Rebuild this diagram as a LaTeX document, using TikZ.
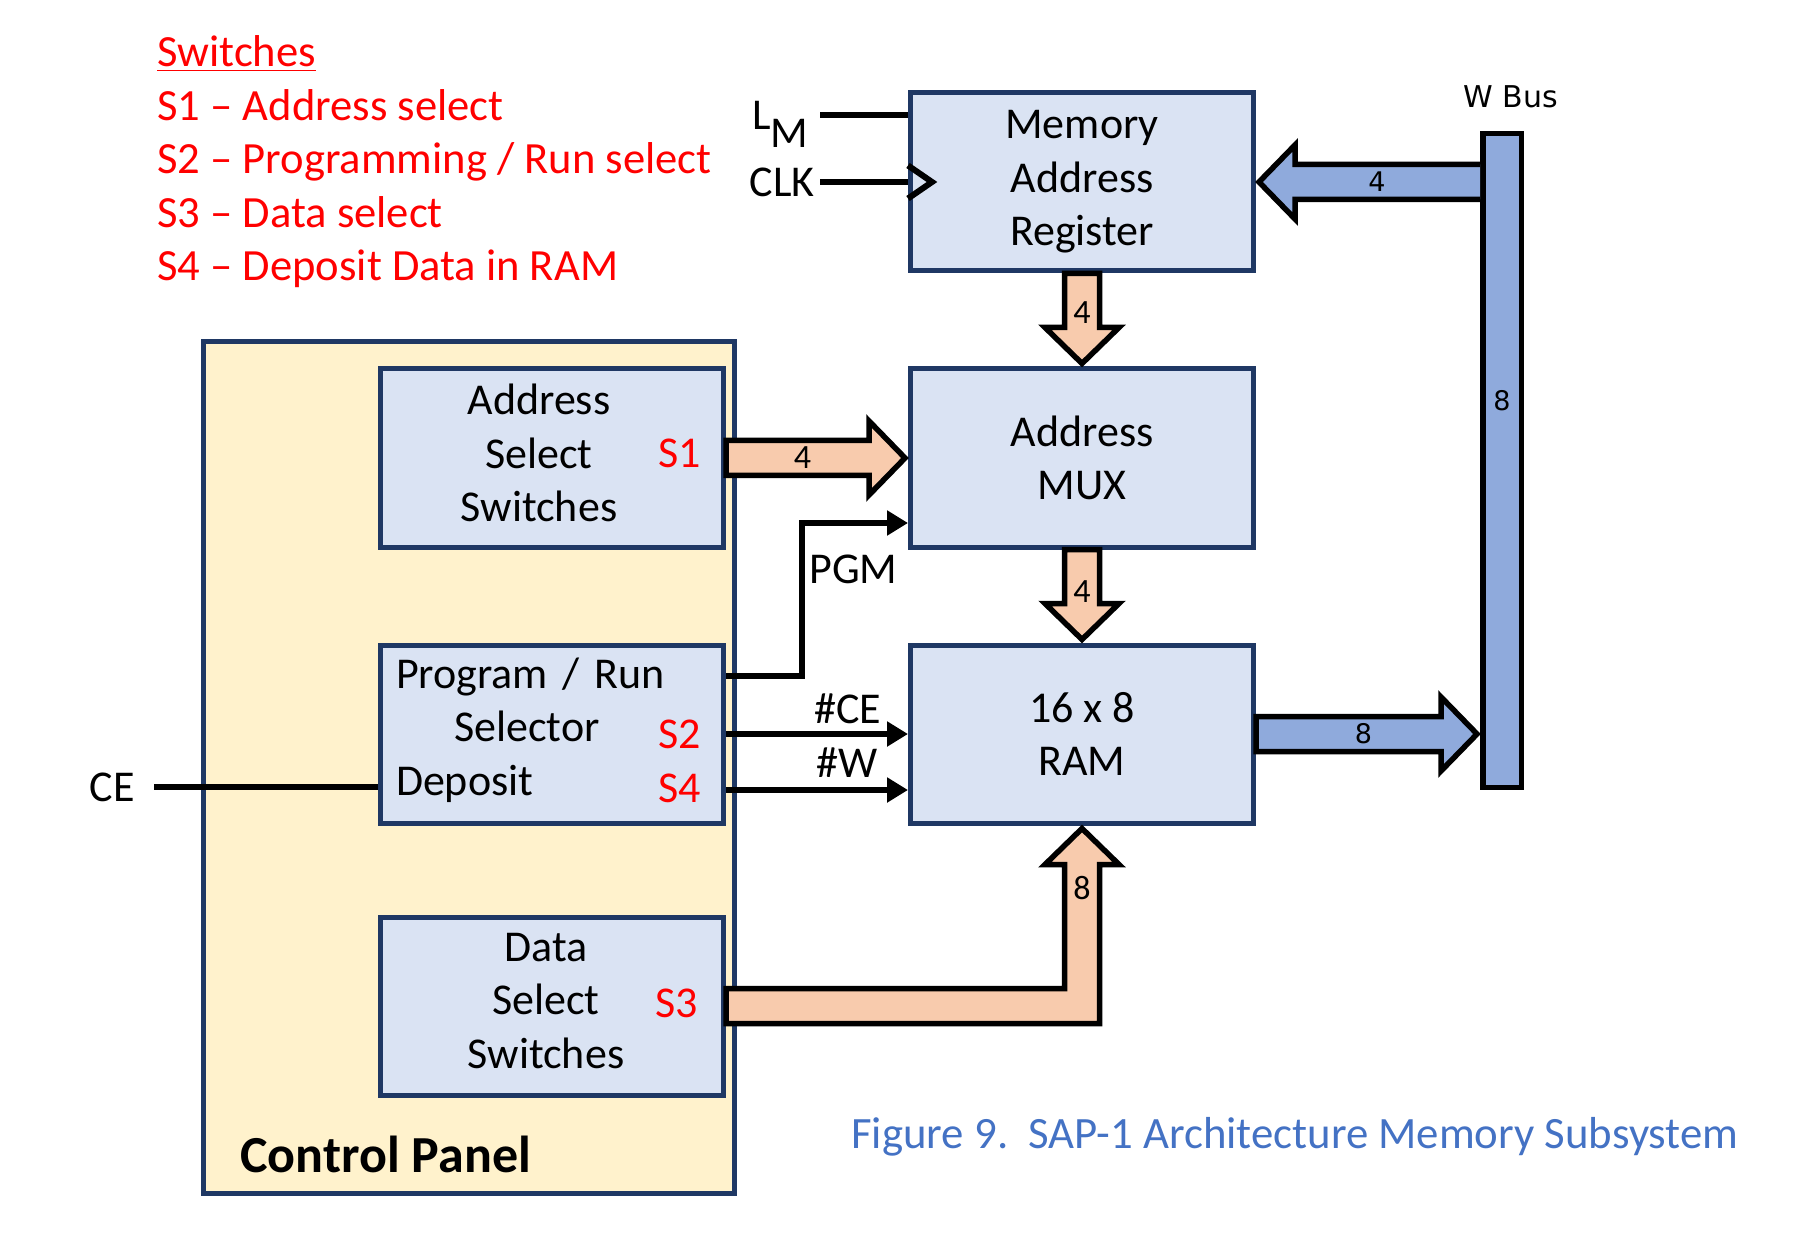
\documentclass[tikz,border=0pt]{standalone}
\usepackage{fontspec}
\setmainfont{Carlito}
\newfontfamily\busfont{DejaVu Sans}
\usetikzlibrary{positioning, calc, arrows.meta}
\definecolor{box_fill}{HTML}{DAE3F3}
\definecolor{box_line}{HTML}{1F3864}
\definecolor{panel_fill}{HTML}{FFF2CC}
\definecolor{bus_orange}{HTML}{F8CBAD}
\definecolor{bus_blue}{HTML}{8FAADC}
\definecolor{caption_blue}{HTML}{4472C4}
\definecolor{switch_red}{HTML}{FF0000}

\begin{document}
\begin{tikzpicture}[
    x=0.5pt, y=-0.5pt,
    >={Triangle[length=10.5pt, width=12pt]},
    font=\fontsize{22}{26.75}\selectfont,
    block/.style={
        draw=box_line,
        fill=box_fill,
        line width=2.5pt,
        align=center,
        minimum width=171.5pt,
        minimum height=89pt,
        inner sep=0pt
    },
    panel/.style={
        draw=box_line,
        fill=panel_fill,
        line width=2.5pt,
        minimum width=265.5pt,
        minimum height=426pt,
        inner sep=0pt
    },
    boxtext/.style={align=center, inner sep=0pt},
    swtag/.style={text=switch_red, inner sep=0pt, anchor=east},
    sigtext/.style={inner sep=0pt},
    sig/.style={line width=3pt},
    fatbus/.style={draw=black, line width=2.75pt, line join=miter},
    orangebus/.style={fatbus, fill=bus_orange},
    bluebus/.style={fatbus, fill=bus_blue},
    orangenum/.style={font=\fontsize{17}{20}\selectfont, inner sep=0pt},
    bluenum/.style={font=\busfont\fontsize{13.5}{16}\selectfont, inner sep=0pt}
]
\useasboundingbox (0,0) rectangle (1813,1256);

\node[anchor=west, align=left, text=switch_red, inner sep=0pt, font=\fontsize{22.3}{26.75}\selectfont] (legend) at (157,162)
    {\underline{Switches}\\S1 -- Address select\\S2 -- Programming / Run select\\S3 -- Data select\\S4 -- Deposit Data in RAM};

\node[panel] (panel) at (469,767.5) {};
\node[anchor=base west, inner sep=0pt, font=\bfseries\fontsize{26}{30}\selectfont] (paneltitle)
    at ([xshift=19.5pt, yshift=12pt]panel.south west) {Control Panel};

\node[block] (mux) at (1082,458) {Address\\MUX};
\node[block, above=46.5pt of mux] (mar) {Memory\\Address\\Register};
\node[block, below=46.5pt of mux] (ram) {16 x 8\\RAM};
\node[block, left=91pt of mux] (addrsw) {};
\node[block, left=91pt of ram] (pgmsw) {};
\node[block, below=44.5pt of pgmsw] (datasw) {};

\node[boxtext] (addrswtext) at ([xshift=-6.5pt, yshift=2.5pt]addrsw.center) {Address\\Select\\Switches};
\node[boxtext, align=left, text width=156pt] (pgmswtext) at ([yshift=2pt]pgmsw.center) {Program / Run\\\hspace*{29pt}Selector\\Deposit};
\node[boxtext] (dataswtext) at ([xshift=-3pt, yshift=2.5pt]datasw.center) {Data\\Select\\Switches};

\node[swtag] (s1) at ([xshift=-12.5pt, yshift=2.5pt]addrsw.east) {S1};
\node[swtag] (s2) at ([xshift=-12.5pt]pgmsw.east) {S2};
\node[swtag] (s4) at ([xshift=-12.5pt, yshift=-27pt]pgmsw.east) {S4};
\node[swtag] (s3) at ([xshift=-14pt, yshift=1.5pt]datasw.east) {S3};

\coordinate (lmin) at ([yshift=33.25pt]mar.west);
\node[sigtext, left=49.5pt of lmin] (lm) {L\smash{\raisebox{-9pt}{M}}};
\draw[sig] ([xshift=5.5pt]lm.east) -- (lmin);
\node[sigtext, left=46.5pt of mar.west] (clk) {CLK};
\draw[sig] ([xshift=2.5pt]clk.east) -- (mar.west);
\draw[sig, line join=miter] ([yshift=8.25pt]mar.west) -- ([xshift=12pt]mar.west) -- ([yshift=-8.25pt]mar.west);

\coordinate (pgmin) at ([yshift=-32.5pt]mux.west);
\draw[sig, ->] ([yshift=29pt]pgmsw.east) -| ([xshift=-53pt]pgmin) -- (pgmin);
\node[sigtext, anchor=west] (pgm) at ([xshift=-49.5pt, yshift=-23pt]pgmin) {PGM};
\draw[sig, ->] (pgmsw.east) -- node[sigtext, pos=0.87, anchor=south east, yshift=3.5pt] (celabel) {\#CE} (ram.west);
\draw[sig, ->] ([yshift=-28pt]pgmsw.east) -- node[sigtext, pos=0.85, anchor=south east, yshift=5pt] (wlabel) {\#W} ([yshift=-28pt]ram.west);

\coordinate (cein) at ([yshift=-26.5pt]pgmsw.west);
\node[sigtext, left=121.5pt of cein] (ce) {CE};
\draw[sig] ([xshift=9.5pt]ce.east) -- (cein);

\node[draw, fill=bus_blue, line width=2.75pt, minimum width=19.25pt, minimum height=326.75pt, inner sep=0pt] (wbus) at (1502,460.5) {};
\node[bluenum] (wbus8) at ($(wbus.center)+(0,-59.5)$) {8};
\node[font=\busfont\fontsize{15}{18}\selectfont, inner sep=0pt] (wbuslabel) at ($(wbus.north)+(9,-34)$) {W Bus};

\draw[orangebus] ($(addrsw.east)+(0,-17.5)$) -- ($(mux.west)+(-39,-17.5)$) -- ($(mux.west)+(-39,-37)$) -- ($(mux.west)+(-3,0)$)
    -- ($(mux.west)+(-39,37)$) -- ($(mux.west)+(-39,17.5)$) -- ($(addrsw.east)+(0,17.5)$) -- cycle;
\node[orangenum] (n1) at ($(addrsw.east)!0.42!(mux.west)$) {4};

\draw[orangebus] ($(mar.south)+(-17.5,0)$) -- ($(mux.north)+(-17.5,-39)$) -- ($(mux.north)+(-37,-39)$) -- ($(mux.north)+(0,-3)$)
    -- ($(mux.north)+(37,-39)$) -- ($(mux.north)+(17.5,-39)$) -- ($(mar.south)+(17.5,0)$) -- cycle;
\node[orangenum] (n2) at ($(mar.south)!0.42!(mux.north)$) {4};

\draw[orangebus] ($(mux.south)+(-17.5,0)$) -- ($(ram.north)+(-17.5,-39)$) -- ($(ram.north)+(-37,-39)$) -- ($(ram.north)+(0,-3)$)
    -- ($(ram.north)+(37,-39)$) -- ($(ram.north)+(17.5,-39)$) -- ($(mux.south)+(17.5,0)$) -- cycle;
\node[orangenum] (n3) at ($(mux.south)!0.45!(ram.north)$) {4};

\draw[orangebus] ($(datasw.east)+(0,-17.5)$) -- ($(datasw.east -| ram.south)+(-17.5,-17.5)$) -- ($(ram.south)+(-17.5,39)$)
    -- ($(ram.south)+(-37,39)$) -- ($(ram.south)+(0,3)$) -- ($(ram.south)+(37,39)$) -- ($(ram.south)+(17.5,39)$)
    -- ($(datasw.east -| ram.south)+(17.5,17.5)$) -- ($(datasw.east)+(0,17.5)$) -- cycle;
\node[orangenum] (n4) at ($(ram.south)+(0,63)$) {8};

\draw[bluebus] ($(wbus.west |- mar.east)+(0,-17.5)$) -- ($(mar.east)+(39,-17.5)$) -- ($(mar.east)+(39,-37)$) -- ($(mar.east)+(3,0)$)
    -- ($(mar.east)+(39,37)$) -- ($(mar.east)+(39,17.5)$) -- ($(wbus.west |- mar.east)+(0,17.5)$);
\node[bluenum] (n5) at ($(wbus.west |- mar.east)!0.46!(mar.east)$) {4};

\draw[bluebus] ($(ram.east)+(0,-17.5)$) -- ($(wbus.west |- ram.east)+(-39,-17.5)$) -- ($(wbus.west |- ram.east)+(-39,-37)$)
    -- ($(wbus.west |- ram.east)+(-3,0)$) -- ($(wbus.west |- ram.east)+(-39,37)$) -- ($(wbus.west |- ram.east)+(-39,17.5)$)
    -- ($(ram.east)+(0,17.5)$) -- cycle;
\node[bluenum] (n6) at ($(ram.east)!0.48!(wbus.west |- ram.east)$) {8};

\node[anchor=base west, inner sep=0pt, text=caption_blue, font=\fontsize{22.4}{26.75}\selectfont] (caption) at (851,1148)
    {Figure 9.\ \ SAP-1 Architecture Memory Subsystem};

\end{tikzpicture}
\end{document}
